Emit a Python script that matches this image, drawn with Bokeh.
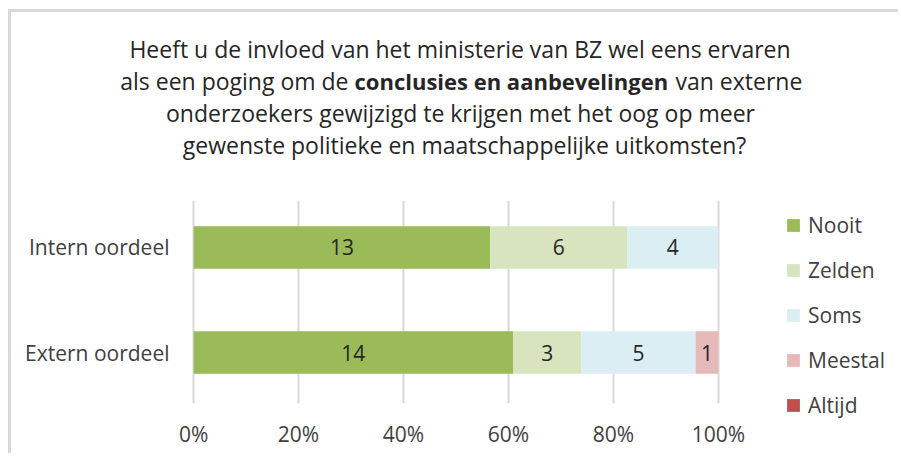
from bokeh.plotting import figure
from bokeh.layouts import column, row
from bokeh.models import (Range1d, FixedTicker, NumeralTickFormatter,
                          Legend, LegendItem, ColumnDataSource)
from bokeh.embed import file_html
from bokeh.resources import INLINE
from bokeh.core.properties import value

# ---- data ----
groups = ["Extern oordeel", "Intern oordeel"]
answers = ["Nooit", "Zelden", "Soms", "Meestal", "Altijd"]
nooit = [14, 13]
zelden = [3, 6]
soms = [5, 4]
meestal = [1, 0]
altijd = [0, 0]
colors = ["#9bbb59", "#d7e4bd", "#dbeef4", "#e6b9b8", "#c0504d"]
x_ticks = [0, 0.2, 0.4, 0.6, 0.8, 1.0]
title_line1 = "Heeft u de invloed van het ministerie van BZ wel eens ervaren"
title_line2 = ["als een poging om de", "conclusies en aanbevelingen", "van externe"]
title_line3 = "onderzoekers gewijzigd te krijgen met het oog op meer"
title_line4 = "gewenste politieke en maatschappelijke uitkomsten?"

FONT = "Open Sans"
TXT = "#404040"
TCOL = "#262626"
FS = "21px"

# ---------------- title figure (data units = page pixels) ----------------
tf = figure(width=890, height=178, output_backend="svg", toolbar_location=None,
            x_range=Range1d(11, 901), y_range=Range1d(190, 12),
            x_axis_type=None, y_axis_type=None, min_border=0)
tf.outline_line_color = None
tf.background_fill_color = "white"
tf.border_fill_color = "white"
if "frame_align" in tf.properties():
    tf.frame_align = False

plain = ColumnDataSource(dict(x=[459.5, 460, 464], y=[48, 112, 144],
                              t=[title_line1, title_line3, title_line4]))
tf.text(x="x", y="y", text="t", source=plain, text_align="center",
        text_baseline="alphabetic", text_font=value(FONT), text_font_size="23px",
        text_color=TCOL)
tf.text(x=[348], y=[80], text=[title_line2[0]], text_align="right",
        text_baseline="alphabetic", text_font=value(FONT), text_font_size="23px",
        text_color=TCOL)
tf.text(x=[354], y=[80], text=[title_line2[1]], text_align="left",
        text_baseline="alphabetic", text_font=value(FONT), text_font_size="22px",
        text_font_style="bold", text_color=TCOL)
tf.text(x=[675], y=[80], text=[title_line2[2]], text_align="left",
        text_baseline="alphabetic", text_font=value(FONT), text_font_size="23px",
        text_color=TCOL)

# ---------------- chart ----------------
series = [nooit, zelden, soms, meestal, altijd]
totals = [sum(s[i] for s in series) for i in range(len(groups))]
ypos = list(range(len(groups)))
data = {"y": ypos}
for name, s in zip(answers, series):
    data[name] = [v / t for v, t in zip(s, totals)]
source = ColumnDataSource(data)

lx, ly, lt = [], [], []
for i in range(len(groups)):
    start = 0.0
    for s in series:
        frac = s[i] / totals[i]
        if s[i] > 0:
            lx.append(start + frac / 2)
            ly.append(ypos[i])
            lt.append(str(s[i]))
        start += frac
lsrc = ColumnDataSource(dict(x=lx, y=ly, t=lt))

p = figure(width=760, height=266, output_backend="svg", toolbar_location=None,
           x_range=Range1d(-0.004, 1.004), y_range=Range1d(-0.4857, 1.4476),
           min_border_left=180, min_border_right=51,
           min_border_top=10, min_border_bottom=53)
p.outline_line_color = None
p.background_fill_color = "white"
p.border_fill_color = "white"

renderers = p.hbar_stack(answers, y="y", height=0.405, color=colors,
                         line_color=None, source=source)

p.text(x="x", y="y", text="t", source=lsrc, text_align="center",
       text_baseline="middle", text_font=value(FONT),
       text_font_size=FS, text_color=TCOL)

p.xaxis.ticker = FixedTicker(ticks=x_ticks)
p.xaxis.formatter = NumeralTickFormatter(format="0%")
p.yaxis.ticker = FixedTicker(ticks=ypos)
p.yaxis.major_label_overrides = {i: g for i, g in zip(ypos, groups)}
for ax in (p.xaxis[0], p.yaxis[0]):
    ax.axis_line_color = None
    ax.major_tick_line_color = None
    ax.minor_tick_line_color = None
    ax.major_tick_out = 0
    ax.major_tick_in = 0
    ax.major_label_text_font = FONT
    ax.major_label_text_font_size = FS
    ax.major_label_text_color = TXT
p.xaxis.major_label_standoff = 16
p.yaxis.major_label_standoff = 22

p.xgrid.ticker = FixedTicker(ticks=x_ticks)
p.xgrid.grid_line_color = "#d9d9d9"
p.xgrid.grid_line_width = 2
p.ygrid.grid_line_color = None

# ---------------- legend figure ----------------
lf = figure(width=130, height=266, output_backend="svg", toolbar_location=None,
            x_range=Range1d(0, 1), y_range=Range1d(0, 1),
            x_axis_type=None, y_axis_type=None, min_border=0)
lf.outline_line_color = None
lf.background_fill_color = "white"
lf.border_fill_color = "white"
if "frame_align" in lf.properties():
    lf.frame_align = False
items = []
for a, c in zip(answers, colors):
    r = lf.hbar(y=[0], left=[0], right=[0], height=1, fill_color=c, line_color=None)
    items.append(LegendItem(label=a, renderers=[r]))
legend = Legend(items=items, location=(14, 37), orientation="vertical")
legend.label_text_font = FONT
legend.label_text_font_size = FS
legend.label_text_color = TXT
legend.glyph_width = 16
legend.glyph_height = 16
legend.label_standoff = 7
legend.label_height = 20
legend.spacing = 17
legend.padding = 0
legend.margin = 0
legend.border_line_color = None
legend.background_fill_alpha = 0
lf.add_layout(legend)

layout = column(tf, row(p, lf, spacing=0), spacing=0, margin=(12, 0, 0, 11),
                styles={"box-shadow": "-3px -3px 0 0 #d9d9d9"})

open("out.html", "w").write(file_html(layout, INLINE))
